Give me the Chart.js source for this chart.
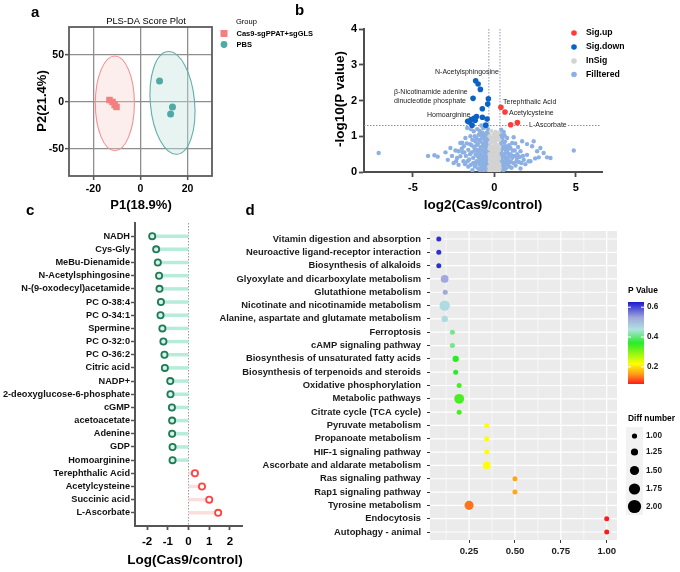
<!DOCTYPE html>
<html>
<head>
<meta charset="utf-8">
<script src="https://cdn.jsdelivr.net/npm/chart.js@4.4.1/dist/chart.umd.min.js"></script>
<style>
  html, body { margin: 0; padding: 0; background: #fff; }
  #wrap { position: relative; width: 680px; height: 572px; overflow: hidden; background: #fff; }
  #wrap canvas { position: absolute; left: 0; top: 0; }
</style>
</head>
<body>
<div id="wrap">
  <canvas id="chartA" width="680" height="572"></canvas>
  <canvas id="chartB" width="680" height="572"></canvas>
  <canvas id="chartC" width="680" height="572"></canvas>
  <canvas id="chartD" width="680" height="572"></canvas>
</div>
<script>
// ---------- Panel a: PLS-DA scores ----------
const casX = [-13.2, -11.9, -11.0, -10.2];
const casY = [2.1, 0.0, -3.2, -5.3];
const pbsX = [8.1, 13.6, 12.8];
const pbsY = [22.3, -5.3, -12.8];
// confidence ellipses: [Cas9, PBS]
const ellipseCx = [-10.9, 13.6];
const ellipseCy = [-1.5, -1.0];
const ellipseRx = [8.3, 9.4];
const ellipseRy = [50.5, 55.0];
const aXTicks = [-20, 0, 20];
const aYTicks = [-50, 0, 50];

// ---------- Panel b: volcano ----------
const sigUp = [[0.40, 1.81], [0.65, 1.68], [1.00, 1.32], [1.41, 1.38]];
const sigDown = [
  [-1.15, 2.55], [-1.00, 2.46], [-0.86, 2.31], [-1.31, 2.06], [-0.37, 2.05],
  [-0.41, 1.90], [-0.74, 1.77], [-1.10, 1.55], [-1.25, 1.50], [-1.43, 1.47],
  [-1.64, 1.42], [-0.74, 1.53], [-0.45, 1.48], [-1.37, 1.31], [-0.53, 1.31],
  [-1.18, 1.45], [-1.55, 1.40]
];
const inSig = [
  [-0.30, 0.05], [-0.25, 0.12], [-0.20, 0.20], [-0.15, 0.08], [-0.10, 0.30], [-0.05, 0.15],
  [0.00, 0.05], [0.05, 0.25], [0.10, 0.10], [0.15, 0.35], [0.20, 0.18], [0.25, 0.06],
  [0.30, 0.22], [-0.28, 0.40], [-0.22, 0.50], [-0.12, 0.45], [-0.02, 0.55], [0.08, 0.42],
  [0.18, 0.50], [0.27, 0.60], [-0.30, 0.65], [-0.18, 0.70], [-0.08, 0.62], [0.12, 0.68],
  [0.22, 0.75], [-0.25, 0.82], [-0.10, 0.85], [0.05, 0.80], [0.30, 0.90], [-0.20, 0.95],
  [0.15, 1.00], [-0.05, 1.05], [0.25, 1.10], [-0.28, 0.28], [0.28, 0.38], [-0.12, 0.02],
  [0.12, 0.02], [-0.32, 0.15], [0.32, 0.12], [0.00, 0.35], [-0.05, 0.72], [0.02, 0.92],
  [-0.18, 0.32], [0.20, 0.30], [-0.08, 0.22], [0.06, 0.60], [-0.22, 0.02], [0.22, 0.02],
  [-0.30, 0.50], [-0.15, 0.58], [0.00, 0.48], [0.16, 0.58], [0.30, 0.70], [-0.26, 0.72],
  [-0.14, 0.88], [0.10, 0.88], [0.20, 0.95], [-0.30, 1.00], [0.06, 1.12], [-0.20, 1.15],
  [-0.10, 0.38], [0.10, 0.50], [0.25, 0.42], [-0.25, 0.32], [0.00, 0.18], [0.15, 0.12],
  [-0.08, 0.10], [0.08, 0.32], [-0.04, 0.98], [0.28, 0.05], [-0.28, 0.06], [0.00, 0.65],
  [-0.16, 0.25], [0.22, 0.24]
];
const filtered = [
  [-7.10, 0.53], [-4.07, 0.45], [-3.68, 0.47], [-3.48, 0.43], [-3.00, 0.55], [-2.70, 0.67],
  [-2.39, 0.60], [-2.86, 0.34], [-2.29, 0.39], [-2.09, 0.44], [-2.09, 0.81], [-1.98, 0.82],
  [-1.88, 0.72], [-1.78, 0.95], [-1.67, 1.23], [-1.47, 1.00], [-1.27, 1.14], [-1.17, 0.86],
  [-0.96, 1.04], [-0.69, 1.23], [-0.55, 0.95], [-2.50, 0.25], [-2.20, 0.20], [-1.90, 0.30],
  [-1.95, 0.55], [-1.75, 0.45], [-1.60, 0.62], [-1.55, 0.35], [-1.50, 0.78], [-1.45, 0.20],
  [-1.40, 0.55], [-1.35, 0.90], [-1.30, 0.40], [-1.25, 0.70], [-1.20, 0.15], [-1.20, 1.00],
  [-1.15, 0.50], [-1.10, 0.30], [-1.10, 0.75], [-1.05, 1.20], [-1.00, 0.60], [-1.00, 0.10],
  [-0.95, 0.90], [-0.95, 0.40], [-0.90, 0.22], [-0.90, 1.15], [-0.85, 0.70], [-0.85, 0.50],
  [-0.80, 1.30], [-0.80, 0.32], [-0.78, 0.95], [-0.75, 0.12], [-0.72, 0.60], [-0.70, 0.80],
  [-0.68, 0.42], [-0.65, 1.05], [-0.62, 0.25], [-0.60, 0.70], [-0.58, 1.25], [-0.55, 0.50],
  [-0.52, 0.15], [-0.50, 0.85], [-0.48, 1.10], [-0.46, 0.35], [-0.45, 0.62], [-0.42, 0.05],
  [-0.40, 0.95], [-0.40, 1.20], [-0.38, 0.45], [-0.37, 0.75], [-0.36, 0.20], [-1.60, 0.15],
  [-1.80, 0.22], [-2.60, 0.45], [-2.20, 0.58], [-1.35, 0.05], [-1.05, 0.45], [-0.65, 0.05],
  [-0.88, 0.05], [-1.70, 0.80], [-1.45, 1.20], [-0.62, 0.90], [-0.50, 0.30], [-0.75, 0.35],
  [-1.30, 0.25], [-1.22, 0.60], [-1.12, 0.95], [-1.02, 0.78], [-0.98, 0.28], [-0.92, 0.62],
  [-0.88, 0.85], [-0.82, 0.18], [-0.78, 0.45], [-0.74, 1.10], [-0.70, 0.28], [-0.66, 0.72],
  [-0.63, 0.55], [-0.60, 1.00], [-0.57, 0.38], [-0.54, 0.78], [-0.50, 0.60], [-0.47, 0.22],
  [-0.44, 0.90], [-0.42, 0.70], [-0.40, 0.10], [-0.39, 0.55], [-0.37, 1.05], [-0.36, 0.32],
  [-1.40, 0.75], [-1.50, 0.50], [-1.65, 0.30], [-1.85, 0.55], [-2.00, 0.65], [-2.35, 0.30],
  [-1.15, 0.20], [-0.96, 0.55], [-0.86, 0.35], [-0.68, 0.15], [-0.56, 0.12], [-0.45, 0.45],
  [-0.52, 1.00], [-0.72, 0.95], [-0.84, 1.05], [-1.08, 0.62],
  [0.37, 0.76], [0.40, 0.30], [0.42, 0.55], [0.45, 0.90], [0.47, 1.00], [0.50, 0.15],
  [0.52, 0.42], [0.55, 0.70], [0.57, 1.12], [0.60, 0.25], [0.62, 0.50], [0.67, 0.62],
  [0.70, 0.10], [0.72, 0.35], [0.78, 0.95], [0.80, 0.55], [0.85, 0.20], [0.88, 0.48],
  [0.90, 0.75], [0.95, 0.30], [0.98, 0.67], [1.05, 0.12], [1.09, 0.81], [1.10, 0.40],
  [1.18, 0.97], [1.18, 0.25], [1.25, 0.60], [1.30, 0.18], [1.39, 0.39], [1.45, 0.70],
  [1.50, 0.28], [1.60, 0.58], [1.70, 0.86], [1.75, 0.45], [1.80, 0.34], [1.90, 0.22],
  [2.00, 0.78], [2.00, 0.48], [2.10, 0.30], [2.21, 0.30], [2.31, 0.72], [2.41, 0.86],
  [2.50, 0.38], [2.62, 0.58], [2.72, 0.41], [2.82, 0.67], [3.02, 0.53], [3.23, 0.41],
  [3.44, 0.39], [4.87, 0.60], [0.55, 0.05], [0.45, 0.20], [0.65, 0.85], [1.00, 0.50],
  [1.40, 0.50], [0.75, 0.25], [1.60, 0.10], [0.38, 1.05], [0.42, 1.18],
  [0.36, 0.45], [0.38, 0.60], [0.40, 0.85], [0.43, 0.12], [0.46, 0.38], [0.50, 0.65],
  [0.53, 0.28], [0.58, 0.82], [0.60, 0.45], [0.64, 0.18], [0.68, 0.40], [0.70, 0.72],
  [0.74, 0.55], [0.82, 0.38], [0.86, 0.65], [0.92, 0.15], [0.96, 0.45], [1.02, 0.28],
  [1.12, 0.60], [1.20, 0.45], [1.28, 0.80], [1.35, 0.30], [1.55, 0.42], [1.65, 0.25],
  [0.50, 0.95], [0.62, 1.02], [0.36, 0.92]
];
const pCut = 1.3;          // -log10(0.05)
const fcCut = [-0.34, 0.34];
const bXTicks = [-5, 0, 5];
const bYTicks = [0, 1, 2, 3, 4];

// ---------- Panel c: lollipop ----------
const cNames = [
  'NADH', 'Cys-Gly', 'MeBu-Dienamide', 'N-Acetylsphingosine', 'N-(9-oxodecyl)acetamide',
  'PC O-38:4', 'PC O-34:1', 'Spermine', 'PC O-32:0', 'PC O-36:2', 'Citric acid', 'NADP+',
  '2-deoxyglucose-6-phosphate', 'cGMP', 'acetoacetate', 'Adenine', 'GDP', 'Homoarginine',
  'Terephthalic Acid', 'Acetylcysteine', 'Succinic acid', 'L-Ascorbate'
];
const cValues = [
  -1.75, -1.56, -1.48, -1.42, -1.40, -1.33, -1.35, -1.26, -1.21, -1.16, -1.14, -0.88,
  -0.87, -0.80, -0.79, -0.79, -0.77, -0.77, 0.31, 0.65, 1.00, 1.43
];
const cXTicks = [-2, -1, 0, 1, 2];

// ---------- Panel d: KEGG bubble ----------
const dNames = [
  'Vitamin digestion and absorption', 'Neuroactive ligand-receptor interaction',
  'Biosynthesis of alkaloids', 'Glyoxylate and dicarboxylate metabolism',
  'Glutathione metabolism', 'Nicotinate and nicotinamide metabolism',
  'Alanine, aspartate and glutamate metabolism', 'Ferroptosis', 'cAMP signaling pathway',
  'Biosynthesis of unsaturated fatty acids', 'Biosynthesis of terpenoids and steroids',
  'Oxidative phosphorylation', 'Metabolic pathways', 'Citrate cycle (TCA cycle)',
  'Pyruvate metabolism', 'Propanoate metabolism', 'HIF-1 signaling pathway',
  'Ascorbate and aldarate metabolism', 'Ras signaling pathway', 'Rap1 signaling pathway',
  'Tyrosine metabolism', 'Endocytosis', 'Autophagy - animal'
];
const dRatio = [
  0.085, 0.085, 0.085, 0.117, 0.120, 0.117, 0.117, 0.159, 0.159, 0.177, 0.177, 0.196,
  0.196, 0.196, 0.346, 0.346, 0.346, 0.346, 0.500, 0.500, 0.250, 1.000, 1.000
];
const dPvalue = [
  0.62, 0.62, 0.62, 0.53, 0.53, 0.46, 0.46, 0.41, 0.41, 0.36, 0.36, 0.34,
  0.34, 0.34, 0.22, 0.22, 0.22, 0.22, 0.16, 0.16, 0.13, 0.085, 0.085
];
const dDiff = [
  1, 1, 1, 1.5, 1, 2, 1.25, 1, 1, 1.25, 1, 1,
  1.9, 1, 1, 1, 1, 1.5, 1, 1, 1.75, 1, 1
];
const dXTicks = [0.25, 0.5, 0.75, 1.0];
const dXMinor = [0.125, 0.375, 0.625, 0.875];
const pLegendTicks = [0.2, 0.4, 0.6];
const diffLegend = [1.0, 1.25, 1.5, 1.75, 2.0];

// ---------- shared helpers ----------
const FONT = '"Liberation Sans", Arial, Helvetica, sans-serif';
Chart.defaults.font.family = FONT;
Chart.defaults.color = '#000';
const W = 680, H = 572;

function text(ctx, str, x, y, font, opts = {}) {
  ctx.save();
  ctx.font = font;
  ctx.fillStyle = opts.color || '#000';
  ctx.textAlign = opts.align || 'left';
  ctx.textBaseline = 'middle';
  ctx.translate(x, y);
  if (opts.rotate) ctx.rotate(opts.rotate);
  ctx.fillText(str, 0, 0);
  ctx.restore();
}

function padFor(area) {
  return { top: area.top, right: W - area.right, bottom: 0, left: 0 };
}

function setTicks(list) {
  return s => { s.ticks = list.map(v => ({ value: v })); };
}

function baseOptions(area) {
  return {
    responsive: false,
    animation: false,
    events: [],
    layout: { padding: padFor(area) },
    plugins: { legend: { display: false }, tooltip: { enabled: false } }
  };
}

const pStops = [
  [0.085, [255, 26, 26]], [0.15, [255, 154, 26]], [0.22, [255, 255, 0]],
  [0.36, [40, 236, 40]], [0.45, [176, 226, 224]], [0.53, [160, 168, 220]],
  [0.635, [26, 26, 204]]
];
function pColor(p) {
  if (p <= pStops[0][0]) return 'rgb(' + pStops[0][1].join(',') + ')';
  for (let i = 1; i < pStops.length; i++) {
    if (p <= pStops[i][0]) {
      const [p0, c0] = pStops[i - 1];
      const [p1, c1] = pStops[i];
      const t = (p - p0) / (p1 - p0);
      const c = c0.map((v, k) => Math.round(v + (c1[k] - v) * t));
      return 'rgb(' + c.join(',') + ')';
    }
  }
  return 'rgb(' + pStops[pStops.length - 1][1].join(',') + ')';
}
function diffRadius(d) { return 2.5 + (d - 1) * 2.7; }

// ---------- Panel a ----------
const areaA = { left: 69, right: 212, top: 27, bottom: 176 };
const optsA = baseOptions(areaA);
optsA.scales = {
  x: {
    type: 'linear', min: -30.4, max: 30.4,
    afterBuildTicks: setTicks(aXTicks),
    afterFit: s => { s.height = H - areaA.bottom; },
    grid: { color: '#8e8e8e', lineWidth: 1.3, tickLength: 4, tickColor: '#555', tickWidth: 1.5 },
    border: { display: false },
    ticks: { font: { size: 10.5, weight: 'bold' }, padding: 3, maxRotation: 0 }
  },
  y: {
    type: 'linear', min: -79, max: 80,
    afterBuildTicks: setTicks(aYTicks),
    afterFit: s => { s.width = areaA.left; },
    grid: { color: '#8e8e8e', lineWidth: 1.3, tickLength: 4, tickColor: '#555', tickWidth: 1.5 },
    border: { display: false },
    ticks: { font: { size: 10.5, weight: 'bold' }, padding: 1 }
  }
};
new Chart(document.getElementById('chartA'), {
  type: 'scatter',
  data: {
    datasets: [
      {
        label: 'Cas9-sgPPAT+sgGLS',
        data: casX.map((x, i) => ({ x: x, y: casY[i] })),
        pointStyle: 'rect', pointRadius: 4.6, backgroundColor: '#f47f7f', borderWidth: 0
      },
      {
        label: 'PBS',
        data: pbsX.map((x, i) => ({ x: x, y: pbsY[i] })),
        pointStyle: 'circle', pointRadius: 3.5, backgroundColor: '#4fa9a4', borderWidth: 0
      }
    ]
  },
  options: optsA,
  plugins: [{
    id: 'panelA',
    beforeDatasetsDraw(chart) {
      const { ctx, scales: { x, y } } = chart;
      const fills = ['rgba(248,205,205,0.35)', 'rgba(195,228,222,0.4)'];
      const strokes = ['#f59191', '#5fb0ab'];
      const tilt = [0, -0.09];
      ellipseCx.forEach((cx, i) => {
        const px = x.getPixelForValue(cx);
        const py = y.getPixelForValue(ellipseCy[i]);
        const rx = Math.abs(x.getPixelForValue(cx + ellipseRx[i]) - px);
        const ry = Math.abs(y.getPixelForValue(ellipseCy[i] + ellipseRy[i]) - py);
        ctx.save();
        ctx.beginPath();
        ctx.ellipse(px, py, rx, ry, tilt[i], 0, Math.PI * 2);
        ctx.fillStyle = fills[i];
        ctx.fill();
        ctx.lineWidth = 1.1;
        ctx.strokeStyle = strokes[i];
        ctx.stroke();
        ctx.restore();
      });
    },
    afterDraw(chart) {
      const { ctx, chartArea: a } = chart;
      ctx.save();
      ctx.strokeStyle = '#5c5c5c';
      ctx.lineWidth = 1.8;
      ctx.strokeRect(a.left, a.top, a.right - a.left, a.bottom - a.top);
      ctx.restore();
      text(ctx, 'a', 31, 13, 'bold 15px ' + FONT);
      text(ctx, 'PLS-DA Score Plot', 146, 21, '9.4px ' + FONT, { align: 'center' });
      text(ctx, 'P1(18.9%)', 141, 205, 'bold 13px ' + FONT, { align: 'center' });
      text(ctx, 'P2(21.4%)', 42, 101, 'bold 13px ' + FONT, { align: 'center', rotate: -Math.PI / 2 });
      // legend
      text(ctx, 'Group', 236, 22, '7.5px ' + FONT);
      ctx.save();
      ctx.fillStyle = '#f47f7f';
      ctx.fillRect(220.5, 30, 7, 7);
      ctx.fillStyle = '#4fa9a4';
      ctx.beginPath();
      ctx.arc(224, 44.5, 3.4, 0, Math.PI * 2);
      ctx.fill();
      ctx.restore();
      text(ctx, 'Cas9-sgPPAT+sgGLS', 236.5, 33.5, 'bold 7.5px ' + FONT);
      text(ctx, 'PBS', 236.5, 44.5, 'bold 7.5px ' + FONT);
    }
  }]
});

// ---------- Panel b ----------
const areaB = { left: 364, right: 602, top: 29, bottom: 172 };
const optsB = baseOptions(areaB);
optsB.scales = {
  x: {
    type: 'linear', min: -8, max: 6.6,
    afterBuildTicks: setTicks(bXTicks),
    afterFit: s => { s.height = H - areaB.bottom; },
    grid: { drawOnChartArea: false, tickLength: 5, tickColor: '#4d4d4d', tickWidth: 1.8 },
    border: { color: '#4d4d4d', width: 2 },
    ticks: { font: { size: 11, weight: 'bold' }, padding: 4, maxRotation: 0 }
  },
  y: {
    type: 'linear', min: 0, max: 4,
    afterBuildTicks: setTicks(bYTicks),
    afterFit: s => { s.width = areaB.left; },
    grid: { drawOnChartArea: false, tickLength: 5, tickColor: '#4d4d4d', tickWidth: 1.8 },
    border: { color: '#4d4d4d', width: 2 },
    ticks: { font: { size: 11, weight: 'bold' }, padding: 2 }
  }
};
const toXY = arr => arr.map(p => ({ x: p[0], y: p[1] }));
const bColors = { up: '#ff3b3b', down: '#0b62c4', insig: '#d3d3d3', filt: '#8db0e3' };
new Chart(document.getElementById('chartB'), {
  type: 'scatter',
  data: {
    datasets: [
      { label: 'Sig.up', data: toXY(sigUp), pointRadius: 2.8, backgroundColor: bColors.up, borderWidth: 0, order: 0 },
      { label: 'Sig.down', data: toXY(sigDown), pointRadius: 2.8, backgroundColor: bColors.down, borderWidth: 0, order: 1 },
      { label: 'InSig', data: toXY(inSig), pointRadius: 2.2, backgroundColor: bColors.insig, borderWidth: 0, order: 2 },
      { label: 'Filltered', data: toXY(filtered), pointRadius: 2.2, backgroundColor: bColors.filt, borderWidth: 0, order: 3 }
    ]
  },
  options: optsB,
  plugins: [{
    id: 'panelB',
    beforeDatasetsDraw(chart) {
      const { ctx, chartArea: a, scales: { x, y } } = chart;
      ctx.save();
      ctx.setLineDash([1.5, 1.5]);
      ctx.lineWidth = 1;
      ctx.strokeStyle = '#8f8f8f';
      const yp = y.getPixelForValue(pCut);
      ctx.beginPath();
      ctx.moveTo(a.left, yp);
      ctx.lineTo(600, yp);
      ctx.stroke();
      ctx.strokeStyle = '#8a93b8';
      fcCut.forEach(v => {
        const xp = x.getPixelForValue(v);
        ctx.beginPath();
        ctx.moveTo(xp, a.top);
        ctx.lineTo(xp, a.bottom);
        ctx.stroke();
      });
      ctx.restore();
    },
    afterDraw(chart) {
      const { ctx } = chart;
      text(ctx, 'b', 295, 11, 'bold 15px ' + FONT);
      text(ctx, 'log2(Cas9/control)', 483, 205, 'bold 13.5px ' + FONT, { align: 'center' });
      text(ctx, '-log10(P value)', 340, 99, 'bold 13.5px ' + FONT, { align: 'center', rotate: -Math.PI / 2 });
      // legend
      const items = [['Sig.up', bColors.up, 33], ['Sig.down', bColors.down, 47], ['InSig', bColors.insig, 61], ['Filltered', bColors.filt, 74.5]];
      items.forEach(([lab, col, yy]) => {
        ctx.save();
        ctx.fillStyle = col;
        ctx.beginPath();
        ctx.arc(574, yy, 2.8, 0, Math.PI * 2);
        ctx.fill();
        ctx.restore();
        text(ctx, lab, 586, yy, 'bold 8.7px ' + FONT);
      });
      // annotations
      const f = '7px ' + FONT;
      const c = { color: '#222' };
      text(ctx, 'N-Acetylsphingosine', 435, 72, f, c);
      text(ctx, 'β-Nicotinamide adenine', 394, 92, f, c);
      text(ctx, 'dinucleotide phosphate', 394, 101, f, c);
      text(ctx, 'Homoarginine', 427, 115, f, c);
      text(ctx, 'Terephthalic Acid', 503, 102, f, c);
      text(ctx, 'Acetylcysteine', 509, 113, f, c);
      ctx.save();
      ctx.font = f;
      const wAsc = ctx.measureText('L-Ascorbate').width;
      ctx.fillStyle = '#fff';
      ctx.fillRect(528, 120.5, wAsc + 2, 9);
      ctx.restore();
      text(ctx, 'L-Ascorbate', 529, 125, f, c);
    }
  }]
});

// ---------- Panel c ----------
const areaC = { left: 135, right: 242, top: 223, bottom: 526 };
const optsC = baseOptions(areaC);
optsC.scales = {
  x: {
    type: 'linear', min: -2.58, max: 2.58,
    afterBuildTicks: setTicks(cXTicks),
    afterFit: s => { s.height = H - areaC.bottom; },
    grid: { drawOnChartArea: false, tickLength: 4, tickColor: '#555', tickWidth: 1.8 },
    border: { color: '#555', width: 2 },
    ticks: { font: { size: 11.5, weight: 'bold' }, padding: 5, maxRotation: 0 }
  },
  y: {
    type: 'linear', min: -1, max: 22, reverse: true,
    afterBuildTicks: setTicks(cNames.map((n, i) => i)),
    afterFit: s => { s.width = areaC.left; },
    grid: { drawOnChartArea: false, tickLength: 4, tickColor: '#555', tickWidth: 1.5 },
    border: { color: '#555', width: 2 },
    ticks: {
      font: { size: 9.2, weight: 'bold' }, padding: 1, autoSkip: false, color: '#111',
      callback: v => cNames[v]
    }
  }
};
const stemSets = cValues.map((v, i) => ({
  type: 'line',
  data: [{ x: 0, y: i }, { x: v, y: i }],
  borderColor: v < 0 ? '#b6ecda' : '#fcdede',
  borderWidth: 3.5,
  pointRadius: 0,
  order: 5
}));
new Chart(document.getElementById('chartC'), {
  type: 'scatter',
  data: {
    datasets: [
      {
        data: cValues.map((v, i) => ({ x: v, y: i })),
        pointRadius: 3.1,
        borderWidth: 1.8,
        borderColor: ctx => (cValues[ctx.dataIndex] < 0 ? '#1f7a57' : '#ff4343'),
        backgroundColor: ctx => (cValues[ctx.dataIndex] < 0 ? '#d8f1e6' : '#ffffff'),
        order: 0
      }
    ].concat(stemSets)
  },
  options: optsC,
  plugins: [{
    id: 'panelC',
    beforeDatasetsDraw(chart) {
      const { ctx, chartArea: a, scales: { x } } = chart;
      const xp = x.getPixelForValue(0);
      ctx.save();
      ctx.setLineDash([1.5, 1.5]);
      ctx.strokeStyle = '#9a9a9a';
      ctx.lineWidth = 1;
      ctx.beginPath();
      ctx.moveTo(xp, a.top);
      ctx.lineTo(xp, a.bottom);
      ctx.stroke();
      ctx.restore();
    },
    afterDraw(chart) {
      const { ctx } = chart;
      text(ctx, 'c', 26, 211, 'bold 15px ' + FONT);
      text(ctx, 'Log(Cas9/control)', 185, 560, 'bold 13.5px ' + FONT, { align: 'center' });
    }
  }]
});

// ---------- Panel d ----------
const areaD = { left: 430, right: 617, top: 231, bottom: 540 };
const optsD = baseOptions(areaD);
optsD.scales = {
  x: {
    type: 'linear', min: 0.037, max: 1.056,
    afterBuildTicks: setTicks(dXTicks),
    afterFit: s => { s.height = H - areaD.bottom; },
    grid: { drawOnChartArea: false, tickLength: 3, tickColor: '#333', tickWidth: 1 },
    border: { display: false },
    ticks: { font: { size: 9.6, weight: 'bold' }, padding: 3, maxRotation: 0, color: '#1a1a1a', callback: v => v.toFixed(2) }
  },
  y: {
    type: 'linear', min: -0.6, max: 22.6, reverse: true,
    afterBuildTicks: setTicks(dNames.map((n, i) => i)),
    afterFit: s => { s.width = areaD.left; },
    grid: { drawOnChartArea: false, tickLength: 3, tickColor: '#333', tickWidth: 1 },
    border: { display: false },
    ticks: {
      font: { size: 9.4, weight: 'bold' }, padding: 6, autoSkip: false, color: '#1a1a1a',
      callback: v => dNames[v]
    }
  }
};
new Chart(document.getElementById('chartD'), {
  type: 'scatter',
  data: {
    datasets: [{
      data: dRatio.map((r, i) => ({ x: r, y: i })),
      pointRadius: ctx => diffRadius(dDiff[ctx.dataIndex]),
      backgroundColor: ctx => pColor(dPvalue[ctx.dataIndex]),
      borderWidth: 0
    }]
  },
  options: optsD,
  plugins: [{
    id: 'panelD',
    beforeDraw(chart) {
      const { ctx, chartArea: a, scales: { x, y } } = chart;
      ctx.save();
      ctx.fillStyle = '#ebebeb';
      ctx.fillRect(a.left, a.top, a.right - a.left, a.bottom - a.top);
      ctx.strokeStyle = '#ffffff';
      ctx.lineWidth = 0.6;
      dXMinor.forEach(v => {
        const xp = x.getPixelForValue(v);
        ctx.beginPath(); ctx.moveTo(xp, a.top); ctx.lineTo(xp, a.bottom); ctx.stroke();
      });
      ctx.lineWidth = 1.2;
      dXTicks.forEach(v => {
        const xp = x.getPixelForValue(v);
        ctx.beginPath(); ctx.moveTo(xp, a.top); ctx.lineTo(xp, a.bottom); ctx.stroke();
      });
      dNames.forEach((n, i) => {
        const yp = y.getPixelForValue(i);
        ctx.beginPath(); ctx.moveTo(a.left, yp); ctx.lineTo(a.right, yp); ctx.stroke();
      });
      ctx.restore();
    },
    afterDraw(chart) {
      const { ctx } = chart;
      text(ctx, 'd', 245.5, 211, 'bold 15px ' + FONT);
      // colour bar
      const bx = 628, bw = 16, top = 302, bot = 384;
      const pTop = 0.635, pBot = 0.085;
      const grad = ctx.createLinearGradient(0, bot, 0, top);
      pStops.forEach(([p]) => grad.addColorStop((p - pBot) / (pTop - pBot), pColor(p)));
      ctx.save();
      ctx.fillStyle = grad;
      ctx.fillRect(bx, top, bw, bot - top);
      ctx.strokeStyle = '#ffffff';
      ctx.lineWidth = 1;
      pLegendTicks.forEach(p => {
        const yp = bot - (p - pBot) / (pTop - pBot) * (bot - top);
        ctx.beginPath(); ctx.moveTo(bx, yp); ctx.lineTo(bx + 3, yp); ctx.stroke();
        ctx.beginPath(); ctx.moveTo(bx + bw - 3, yp); ctx.lineTo(bx + bw, yp); ctx.stroke();
        text(ctx, p.toFixed(1), bx + bw + 3, yp, 'bold 8.2px ' + FONT, { color: '#1a1a1a' });
      });
      ctx.restore();
      text(ctx, 'P Value', 628, 291, 'bold 8.4px ' + FONT);
      // size legend
      text(ctx, 'Diff number', 628, 419, 'bold 8.4px ' + FONT);
      const keyY = [436, 452, 470.5, 489, 506.5];
      ctx.save();
      ctx.fillStyle = '#f2f2f2';
      ctx.fillRect(626, 427, 17, 88);
      ctx.fillStyle = '#000';
      diffLegend.forEach((d, i) => {
        ctx.beginPath();
        ctx.arc(634.5, keyY[i], 2.6 + (d - 1) * 4, 0, Math.PI * 2);
        ctx.fill();
      });
      ctx.restore();
      diffLegend.forEach((d, i) => text(ctx, d.toFixed(2), 646, keyY[i], 'bold 8.2px ' + FONT, { color: '#1a1a1a' }));
    }
  }]
});
</script>
</body>
</html>
